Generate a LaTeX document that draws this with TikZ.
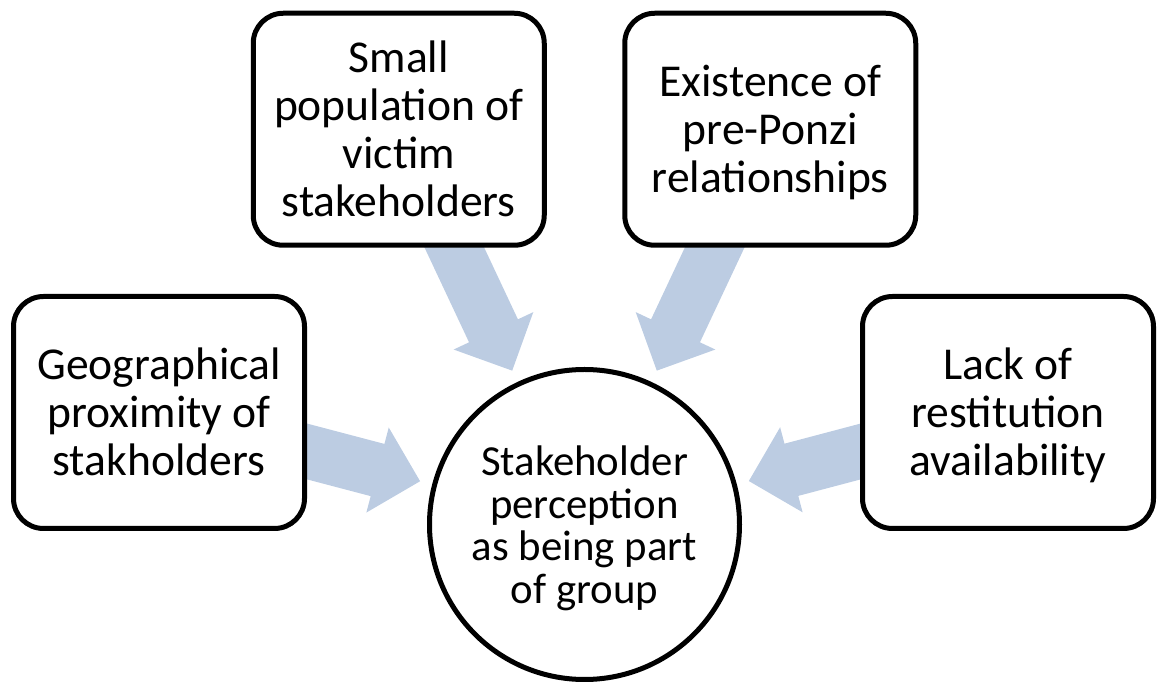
\documentclass[tikz,border=0pt]{standalone}
\usepackage{fontspec}
\setmainfont{Carlito}
\usetikzlibrary{calc,backgrounds}

\newlength{\du}
\setlength{\du}{0.5pt}
\definecolor{dialinecolor}{rgb}{0.000000, 0.000000, 0.000000}
\definecolor{flowcolor}{rgb}{0.737255, 0.800000, 0.886275}
\newcommand{\boxtop}{\rule{0pt}{20pt}}
\newcommand{\boxbot}{\rule[-5pt]{0pt}{5pt}}

\tikzset{
  factor/.style={draw=dialinecolor, fill=white, line width=5\du, rounded corners=30\du,
    minimum width=291\du, minimum height=232\du, inner sep=0pt, align=center,
    font=\fontsize{22.8pt}{24pt}\selectfont},
  hub/.style={draw=dialinecolor, fill=white, circle, line width=5\du,
    minimum size=310\du, inner sep=0pt, align=center,
    font=\fontsize{21.4pt}{21.4pt}\selectfont},
  flow/.style={fill=flowcolor, draw=none}
}

\begin{document}
\begin{tikzpicture}
\pgftransformyscale{-1.000000}
\useasboundingbox (0\du,0\du) rectangle (1158\du,683\du);
% centre
\node[hub] (c) at (584.500000\du,524.500000\du){\boxtop Stakeholder\\perception\\as being part\\of group\boxbot};
% factors
\node[factor] (geo) at (159.000000\du,412.500000\du){\boxtop Geographical\\proximity of\\stakholders\boxbot};
\node[factor] (small) at (398.750000\du,129.250000\du){\boxtop Small\\population of\\victim\\stakeholders\boxbot};
\node[factor] (exist) at (770.250000\du,129.250000\du){\boxtop Existence of\\pre-Ponzi\\relationships\boxbot};
\node[factor] (lack) at (1008.000000\du,412.500000\du){\boxtop Lack of\\restitution\\availability\boxbot};
% block arrows, behind the boxes
\begin{scope}[on background layer]
\foreach \n in {geo,small,exist,lack}{
\coordinate (b) at ($(c)!214\du!(\n)$);
\coordinate (e) at ($(c)!330\du!(\n)$);
\fill[flow] ($(c)!170\du!(\n)$)--($(b)!44\du!90:(\n)$)--($(b)!27\du!90:(\n)$)
  --($(e)!27\du!90:(\n)$)--($(e)!27\du!-90:(\n)$)--($(b)!27\du!-90:(\n)$)
  --($(b)!44\du!-90:(\n)$)--cycle;
}
\end{scope}
\end{tikzpicture}
\end{document}
